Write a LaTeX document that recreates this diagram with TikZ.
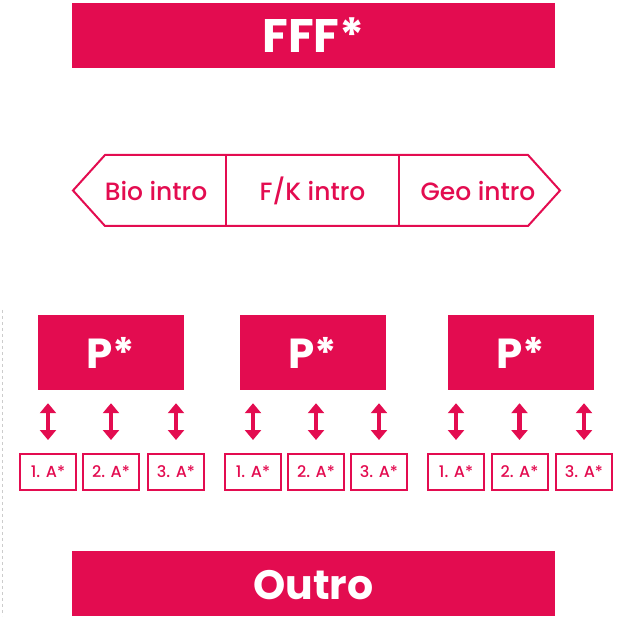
\documentclass[tikz,border=0pt]{standalone}
\usepackage{fontspec}
\setmainfont{Poppins}
\newfontfamily\poppinsmedium{Poppins Medium}
\usetikzlibrary{positioning,arrows.meta,calc}

\definecolor{crimson}{RGB}{227,12,80}

\tikzset{
  bar/.style={fill=crimson, text=white, font=\bfseries\fontsize{47}{47}\selectfont, minimum width=483pt, minimum height=65pt, inner sep=0pt},
  pbox/.style={fill=crimson, text=white, font=\bfseries\fontsize{42}{42}\selectfont, minimum width=146pt, minimum height=75pt, inner sep=0pt},
  abox/.style={draw=crimson, line width=2pt, text=crimson, font=\poppinsmedium\fontsize{16}{16}\selectfont, minimum width=56pt, minimum height=36pt, inner sep=0pt},
  introtext/.style={text=crimson, font=\poppinsmedium\fontsize{25}{25}\selectfont},
  dblarrow/.style={crimson, line width=4.5pt, {Triangle[width=16pt,length=10pt]}-{Triangle[width=16pt,length=10pt]}, shorten <=13pt, shorten >=13pt},
}

\begin{document}
\begin{tikzpicture}[x=1pt,y=1pt]
\useasboundingbox (0,0) rectangle (617,616);

% top and bottom bars
\node[bar] (fff) at (313.5,580.5) {FFF*};
\fill[crimson] (72,0) rectangle (555,65);
\node[text=white, font=\bfseries\fontsize{41}{41}\selectfont] (outro) at (313.5,31) {Outro};

% the three intros in one double-pointed band
\coordinate (tipL) at (73,425.5);
\coordinate (tipR) at (560,425.5);
\draw[crimson, line width=2pt, line join=miter]
  (tipL) -- (105,461) -- (528,461) -- (tipR) -- (528,390) -- (105,390) -- cycle;
\draw[crimson, line width=2pt] (226,461) -- (226,390);
\draw[crimson, line width=2pt] (399,461) -- (399,390);
\node[introtext] (bio) at (156,425.5) {Bio intro};
\node[introtext] (fk)  at (312.5,425.5) {F/K intro};
\node[introtext] (geo) at (478,425.5) {Geo intro};

% P* blocks with their A* boxes
\node[pbox] (p1) at (111,263.5) {P*};
\node[pbox] (p2) at (312.5,263.5) {P*};
\node[pbox] (p3) at (520.5,263.5) {P*};

\foreach \g/\xa/\xb/\xc in {1/48/111/176, 2/253/316/379, 3/456/519.5/584} {
  \node[abox] (a\g1) at (\xa,144) {1. A*};
  \node[abox] (a\g2) at (\xb,144) {2. A*};
  \node[abox] (a\g3) at (\xc,144) {3. A*};
  \foreach \k in {1,2,3}
    \draw[dblarrow] (a\g\k.north |- p\g.south) -- (a\g\k.north);
}

% guide line on the left edge
\draw[gray!40, dashed, line width=1pt] (2,306) -- (2,0);
\end{tikzpicture}
\end{document}
